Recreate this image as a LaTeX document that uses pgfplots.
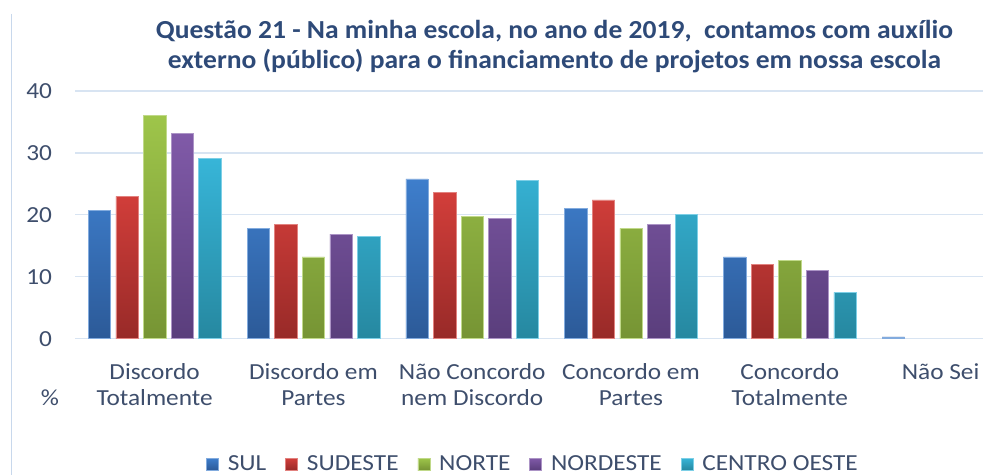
\documentclass[border=0pt]{standalone}
\usepackage{fontspec}
\setmainfont{Carlito}[FakeStretch=1.1]
\newfontfamily\titlefont{Carlito}[FakeStretch=1.06]
\usepackage{pgfplots}
\pgfplotsset{compat=1.18}
\definecolor{titlec}{RGB}{46,74,120}
\definecolor{labc}{RGB}{62,78,108}
\definecolor{gridc}{RGB}{216,228,242}
\definecolor{borderc}{RGB}{200,216,236}
\definecolor{sulT}{RGB}{62,126,204}\definecolor{sulB}{RGB}{44,90,152}
\definecolor{sudT}{RGB}{210,62,58}\definecolor{sudB}{RGB}{152,42,40}
\definecolor{norT}{RGB}{158,197,74}\definecolor{norB}{RGB}{118,148,52}
\definecolor{nedT}{RGB}{128,90,168}\definecolor{nedB}{RGB}{90,62,124}
\definecolor{ceT}{RGB}{55,181,216}\definecolor{ceB}{RGB}{38,136,160}
\pgfplotsset{
  mybar/.style n args={2}{draw=#1!65!white, line width=0.6pt, top color=#1, bottom color=#2,
    legend image code/.code={\path[##1] (0pt,-6pt) rectangle (12pt,6pt);}},
}
\begin{document}
\begin{tikzpicture}[x=1pt,y=1pt]
\draw[borderc, line width=1.2pt] (11.5,461) -- (11.5,0);
\begin{axis}[
  at={(75.2pt,136.3pt)}, anchor=south west,
  scale only axis, width=952.8pt, height=247.7pt,
  xmin=-0.5, xmax=5.5, ymin=0, ymax=40,
  ybar=5.2pt, bar width=22.4pt,
  xtick={0,1,2,3,4,5},
  xticklabels={{\strut Discordo\\Totalmente},{\strut Discordo em\\Partes},{\strut Não Concordo\\nem Discordo},{\strut Concordo em\\Partes},{\strut Concordo\\Totalmente},{\strut\hspace*{-16pt}Não Sei}},
  ytick={0,10,20,30,40},
  axis x line*=bottom, axis y line*=left,
  y axis line style={draw=none},
  x axis line style={gridc, line width=1.2pt},
  tick style={draw=none}, major tick length=0pt,
  ymajorgrids, grid style={gridc, line width=1.2pt},
  /pgf/number format/assume math mode=true,
  yticklabel style={anchor=east, inner sep=0pt, xshift=-23pt, text=labc, font=\fontsize{23}{26}\selectfont},
  xticklabel style={anchor=north, inner sep=0pt, yshift=-22pt, align=center, text=labc, font=\fontsize{23}{26}\selectfont},
  legend style={draw=none, fill=none, at={(0.4805,-0.506)}, anchor=center, legend columns=-1,
    font=\fontsize{23}{26}\selectfont, text=labc,
    /tikz/every odd column/.append style={column sep=7pt},
    /tikz/every even column/.append style={column sep=17pt}},
]
\addplot[mybar={sulT}{sulB}] coordinates {(0,20.7) (1,17.8) (2,25.8) (3,21.1) (4,13.2) (5,0.3)};
\addplot[mybar={sudT}{sudB}] coordinates {(0,23.0) (1,18.5) (2,23.6) (3,22.4) (4,12.0)};
\addplot[mybar={norT}{norB}] coordinates {(0,36.0) (1,13.2) (2,19.8) (3,17.8) (4,12.7)};
\addplot[mybar={nedT}{nedB}] coordinates {(0,33.1) (1,16.9) (2,19.4) (3,18.5) (4,11.0)};
\addplot[mybar={ceT}{ceB}] coordinates {(0,29.1) (1,16.5) (2,25.6) (3,20.1) (4,7.5)};
\legend{SUL,SUDESTE,NORTE,NORDESTE,CENTRO OESTE}
\end{axis}
\node[anchor=base, text=labc, font=\fontsize{23}{26}\selectfont, inner sep=0pt] at (50,70) {\%};
\node[anchor=north, align=center, inner sep=0pt, text=titlec, font=\titlefont\bfseries\fontsize{26}{30}\selectfont] at (554.5,457.7)
  {\strut Questão 21 - Na minha escola, no ano de 2019,\ \ contamos com auxílio\\externo (público) para o financiamento de projetos em nossa escola};
\pgfresetboundingbox
\path[use as bounding box] (0,0) rectangle (983,475);
\end{tikzpicture}
\end{document}
